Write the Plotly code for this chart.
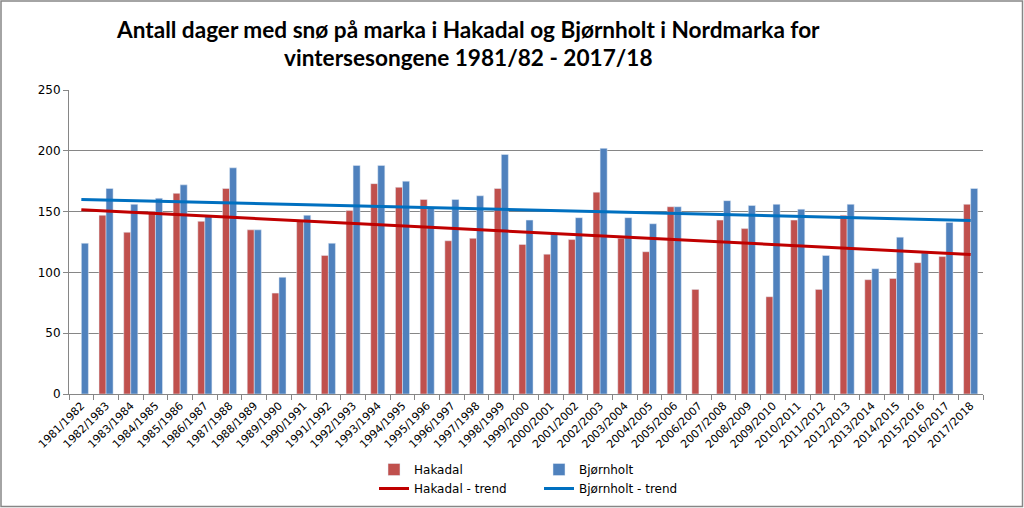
import numpy as np
import plotly.graph_objects as go

seasons = [f"{y}/{y+1}" for y in range(1981, 2018)]
hakadal = [None, 147, 133, 150, 165, 142, 169, 135, 83, 142,
           114, 151, 173, 170, 160, 126, 128, 169, 123, 115,
           127, 166, 128, 117, 154, 86, 143, 136, 80, 143,
           86, 147, 94, 95, 108, 113, 156]
bjornholt = [124, 169, 156, 161, 172, 147, 186, 135, 96, 147,
             124, 188, 188, 175, 153, 160, 163, 197, 143, 132,
             145, 202, 145, 140, 154, None, 159, 155, 156, 152,
             114, 156, 103, 129, 116, 141, 169]
title_lines = ["Antall dager med snø på marka i Hakadal og Bjørnholt i Nordmarka for",
               "vintersesongene 1981/82 - 2017/18"]

RED_BAR = "#C0504D"
BLUE_BAR = "#4F81BD"
RED_TREND = "#C00000"
BLUE_TREND = "#0070C0"


def trend(values):
    idx = np.arange(len(values))
    mask = np.array([v is not None for v in values])
    vals = np.array([v for v in values if v is not None], dtype=float)
    a, b = np.polyfit(idx[mask], vals, 1)
    return list(a * idx + b)


fig = go.Figure()
fig.add_trace(go.Bar(x=seasons, y=hakadal, name="Hakadal", marker_color=RED_BAR,
                     legend="legend"))
fig.add_trace(go.Bar(x=seasons, y=bjornholt, name="Bjørnholt", marker_color=BLUE_BAR,
                     legend="legend2"))
fig.add_trace(go.Scatter(x=seasons, y=trend(hakadal), mode="lines", name="Hakadal - trend",
                         line=dict(color=RED_TREND, width=3), legend="legend"))
fig.add_trace(go.Scatter(x=seasons, y=trend(bjornholt), mode="lines", name="Bjørnholt - trend",
                         line=dict(color=BLUE_TREND, width=3), legend="legend2"))

W, H = 1024, 508
L, R, T, B = 69, 41, 90, 114
pw, ph = W - L - R, H - T - B


def px_x(x):
    return (x - L) / pw


def px_y(y):
    return (T + ph - y) / ph


legend_font = dict(family="DejaVu Sans", size=12, color="#000")
title_font = dict(family="Lato", size=22.6, color="#000", weight="bold")

annotations = [
    dict(text=title_lines[0], x=px_x(468), y=px_y(30), xref="paper", yref="paper",
         xanchor="center", yanchor="middle", showarrow=False, font=title_font),
    dict(text=title_lines[1], x=px_x(468), y=px_y(57), xref="paper", yref="paper",
         xanchor="center", yanchor="middle", showarrow=False, font=title_font),
]

fig.update_layout(
    width=W, height=H,
    margin=dict(l=L, r=R, t=T, b=B, autoexpand=False),
    paper_bgcolor="white", plot_bgcolor="white",
    barmode="group", bargap=0.43, bargroupgap=0,
    annotations=annotations,
    legend=dict(x=px_x(374), y=px_y(455), xanchor="left", yanchor="top",
                orientation="v", font=legend_font, bgcolor="rgba(0,0,0,0)",
                tracegroupgap=1, itemwidth=30),
    legend2=dict(x=px_x(539), y=px_y(455), xanchor="left", yanchor="top",
                 orientation="v", font=legend_font, bgcolor="rgba(0,0,0,0)",
                 tracegroupgap=1, itemwidth=30),
    xaxis=dict(type="category", showgrid=False, showline=True, linecolor="#868686",
               ticks="outside", tickson="boundaries", ticklen=5, tickcolor="#868686",
               tickangle=-45, tickfont=dict(family="DejaVu Sans", size=11, color="#000")),
    yaxis=dict(range=[0, 250], dtick=50, showgrid=True, gridcolor="#868686", gridwidth=1,
               showline=True, linecolor="#868686", ticks="outside", ticklen=5,
               tickcolor="#868686", zeroline=False,
               tickfont=dict(family="DejaVu Sans", size=12, color="#000")),
    shapes=[dict(type="rect", xref="paper", yref="paper",
                 x0=px_x(1), x1=px_x(1022.5),
                 y0=px_y(506.5), y1=px_y(1),
                 line=dict(color="#868686", width=1.5), fillcolor="rgba(0,0,0,0)",
                 layer="below")],
)

fig.write_html("out.html", config={"displayModeBar": False},
               post_script="document.body.style.margin='0';document.body.style.overflow='hidden';")
